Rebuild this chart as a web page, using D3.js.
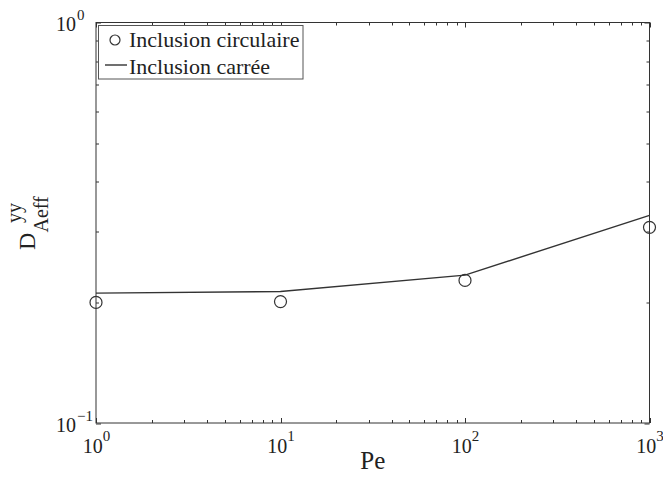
<!DOCTYPE html>
<html>
<head>
<meta charset="utf-8">
<script src="https://cdn.jsdelivr.net/npm/d3@7"></script>
<style>
  html, body { margin: 0; padding: 0; background: #fff; }
  svg { display: block; }
</style>
</head>
<body>
<svg id="chart" width="663" height="477"></svg>
<script>
// Péclet numbers and effective dispersion coefficients
const peValues = [1, 10, 100, 1000];
const circulaire = [0.200, 0.201, 0.227, 0.308];
const carree = [0.211, 0.213, 0.234, 0.330];
const xTickExp = [0, 1, 2, 3];
const yTickExp = [-1, 0];
const legendLabels = ["Inclusion circulaire", "Inclusion carrée"];

const W = 663, H = 477;
const m = { left: 96, right: 13.5, top: 22.5, bottom: 54 };
const iw = W - m.left - m.right, ih = H - m.top - m.bottom;
const ink = "#333";
const serif = "'Liberation Serif', 'Times New Roman', Times, 'DejaVu Serif', serif";

const svg = d3.select("#chart").attr("font-family", serif);
const g = svg.append("g").attr("transform", `translate(${m.left},${m.top})`);

const x = d3.scaleLog().domain([1, 1000]).range([0, iw]);
const y = d3.scaleLog().domain([0.1, 1]).range([ih, 0]);

// minor + major ticks pointing inward on all four sides
function logTicks(lo, hi) {
  const out = [];
  for (let e = lo; e < hi; e++) for (let k = 1; k <= 9; k++) out.push(k * Math.pow(10, e));
  out.push(Math.pow(10, hi));
  return out;
}
const xt = logTicks(0, 3), yt = logTicks(-1, 0);
const isMajor = v => Math.abs(Math.log10(v) - Math.round(Math.log10(v))) < 1e-9;

const tickG = g.append("g").attr("stroke", ink).attr("stroke-width", 1);
xt.forEach(v => {
  const px = Math.round(x(v)) + 0.5, len = isMajor(v) ? 5 : 3;
  tickG.append("line").attr("x1", px).attr("x2", px).attr("y1", ih).attr("y2", ih - len);
  tickG.append("line").attr("x1", px).attr("x2", px).attr("y1", 0).attr("y2", len);
});
yt.forEach(v => {
  const py = Math.round(y(v)) + 0.5, len = isMajor(v) ? 5 : 3;
  tickG.append("line").attr("x1", 0).attr("x2", len).attr("y1", py).attr("y2", py);
  tickG.append("line").attr("x1", iw).attr("x2", iw - len).attr("y1", py).attr("y2", py);
});

// frame
g.append("rect").attr("x", 0).attr("y", 0).attr("width", iw).attr("height", ih)
  .attr("fill", "none").attr("stroke", ink).attr("stroke-width", 1);

function txt(sel) {
  return sel.append("text").attr("font-family", serif).attr("fill", "#222");
}

// x tick labels as powers of ten
xTickExp.forEach(e => {
  const t = txt(g).attr("x", x(Math.pow(10, e)) + 0.5).attr("y", ih + 29.5)
    .attr("text-anchor", "middle").attr("font-size", 20);
  t.append("tspan").text("10");
  t.append("tspan").attr("dy", -12).attr("font-size", 15).text(e);
});
// y tick labels
yTickExp.forEach(e => {
  const t = txt(g).attr("x", -40).attr("y", y(Math.pow(10, e)) + 8.5)
    .attr("text-anchor", "start").attr("font-size", 20);
  t.append("tspan").text("10");
  t.append("tspan").attr("dx", 1).attr("dy", -11).attr("font-size", 15)
    .text(e < 0 ? "\u2212" + (-e) : e);
});

// axis titles
txt(g).attr("x", iw / 2).attr("y", ih + 46).attr("text-anchor", "middle")
  .attr("font-size", 25).text("Pe");

const yl = svg.append("g").attr("transform", "translate(35,250) rotate(-90)");
txt(yl).attr("x", 0).attr("y", 0).attr("font-size", 24).text("D");
txt(yl).attr("x", 27).attr("y", -14).attr("font-size", 20).text("yy");
txt(yl).attr("x", 17.5).attr("y", 13).attr("font-size", 20).text("Aeff");

// square inclusion: line
const line = d3.line().x((d, i) => x(peValues[i])).y(d => y(d));
g.append("path").datum(carree).attr("d", line)
  .attr("fill", "none").attr("stroke", ink).attr("stroke-width", 1.4);

// circular inclusion: open circles
g.selectAll("circle.pt").data(circulaire).join("circle").attr("class", "pt")
  .attr("cx", (d, i) => x(peValues[i])).attr("cy", d => y(d)).attr("r", 6)
  .attr("fill", "none").attr("stroke", ink).attr("stroke-width", 1.2);

// legend
const lg = svg.append("g").attr("transform", "translate(98.5,25.5)");
lg.append("rect").attr("width", 204.5).attr("height", 53.5)
  .attr("fill", "#fff").attr("stroke", "#555").attr("stroke-width", 1);
lg.append("circle").attr("cx", 16.5).attr("cy", 14.5).attr("r", 5)
  .attr("fill", "none").attr("stroke", ink).attr("stroke-width", 1.2);
lg.append("line").attr("x1", 6.5).attr("x2", 28.5).attr("y1", 39.5).attr("y2", 39.5)
  .attr("stroke", ink).attr("stroke-width", 1.4);
legendLabels.forEach((d, i) => {
  txt(lg).attr("x", 30.5).attr("y", 21.5 + i * 27).attr("font-size", 22).text(d);
});
</script>
</body>
</html>
